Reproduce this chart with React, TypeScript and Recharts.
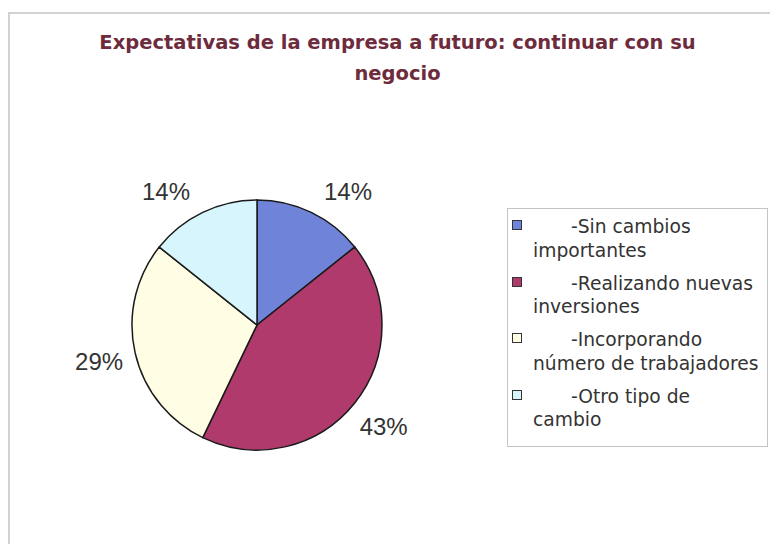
import React from 'react';
import { PieChart, Pie, Cell, Legend } from 'recharts';

const categories = [
  '-Sin cambios importantes',
  '-Realizando nuevas inversiones',
  '-Incorporando número de trabajadores',
  '-Otro tipo de cambio',
];
const counts = [1, 3, 2, 1];
const colors = ['#6F83D9', '#AF3A6B', '#FFFEE4', '#D6F5FD'];

const title = 'Expectativas de la empresa a futuro: continuar con su negocio';

const data = categories.map((name, i) => ({ name, value: counts[i] }));

const CX = 257;
const CY = 325;
const RADIUS = 125;
const LABEL_R = 162;
const PLOT_TOP = 191; // labels are kept inside the plot area

const RAD = Math.PI / 180;

const renderLabel = (props: any) => {
  const { cx, cy, midAngle, percent, index } = props;
  let x = cx + LABEL_R * Math.cos(midAngle * RAD);
  let y = cy - LABEL_R * Math.sin(midAngle * RAD);
  if (y < PLOT_TOP) {
    // slide along the label circle until it fits under the title
    const dy = cy - PLOT_TOP;
    const dx = Math.sqrt(LABEL_R * LABEL_R - dy * dy);
    y = PLOT_TOP;
    x = cx + (Math.cos(midAngle * RAD) >= 0 ? dx : -dx);
  }
  return (
    <text
      key={`lbl-${index}`}
      x={x}
      y={y}
      dy="0.36em"
      textAnchor="middle"
      fill="#333"
      fontSize={24}
      fontFamily="'Liberation Sans', Arial, sans-serif"
    >
      {`${Math.round(percent * 100)}%`}
    </text>
  );
};

const renderLegend = () => (
  <div
    style={{
      boxSizing: 'border-box',
      width: 261,
      height: 239,
      border: '1px solid #c4c4c4',
      paddingTop: 6,
      fontFamily: "'DejaVu Sans', sans-serif",
      fontSize: 18.7,
      lineHeight: '23.5px',
      color: '#333',
      background: '#fff',
    }}
  >
    {categories.map((name, i) => (
      <div
        key={name}
        style={{ position: 'relative', paddingLeft: 25, width: 228, marginBottom: 9.5 }}
      >
        <span
          style={{
            position: 'absolute',
            left: 4,
            top: 5,
            width: 10,
            height: 10,
            boxSizing: 'border-box',
            border: '1.5px solid #333',
            background: colors[i],
          }}
        />
        <div style={{ textIndent: 38 }}>{name}</div>
      </div>
    ))}
  </div>
);

export default function App() {
  return (
    <div
      style={{
        position: 'absolute',
        left: 0,
        top: 0,
        width: 770,
        height: 544,
        overflow: 'hidden',
        background: '#fff',
      }}
    >
      <div
        style={{
          position: 'absolute',
          left: 8,
          top: 12,
          width: 780,
          height: 560,
          borderTop: '2px solid #d2d2d2',
          borderLeft: '2px solid #d2d2d2',
        }}
      />
      <div
        style={{
          position: 'absolute',
          left: 77,
          top: 27,
          width: 641,
          textAlign: 'center',
          fontFamily: "'DejaVu Sans', sans-serif",
          fontWeight: 'bold',
          fontSize: 19.5,
          lineHeight: '31px',
          color: '#6E2B3C',
        }}
      >
        {title}
      </div>
      <div style={{ position: 'absolute', left: 0, top: 0 }}>
        <PieChart width={770} height={544} margin={{ top: 0, right: 0, bottom: 0, left: 0 }}>
          <Pie
            data={data}
            dataKey="value"
            nameKey="name"
            cx={CX}
            cy={CY}
            outerRadius={RADIUS}
            startAngle={90}
            endAngle={-270}
            stroke="#1a1a1a"
            strokeWidth={1.5}
            label={renderLabel}
            labelLine={false}
            isAnimationActive={false}
          >
            {data.map((d, i) => (
              <Cell key={d.name} fill={colors[i]} />
            ))}
          </Pie>
          <Legend
            layout="vertical"
            align="right"
            verticalAlign="top"
            content={renderLegend}
            wrapperStyle={{ left: 507, top: 208, width: 261, height: 239, right: 'auto', bottom: 'auto' }}
          />
        </PieChart>
      </div>
    </div>
  );
}
